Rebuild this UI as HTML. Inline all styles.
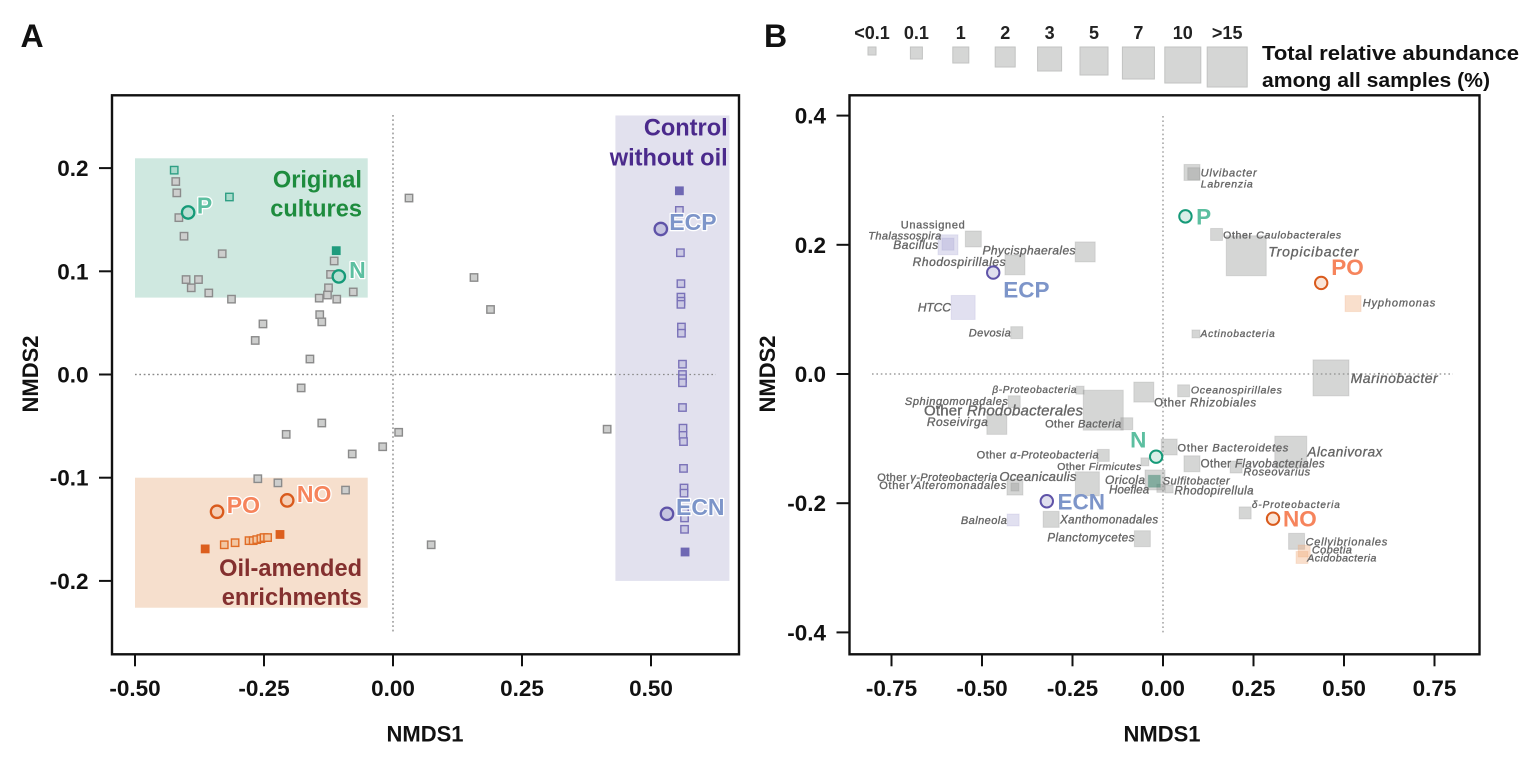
<!DOCTYPE html>
<html lang="en">
<head>
<meta charset="utf-8">
<title>NMDS ordination of samples and taxa</title>
<style>
  html, body { margin: 0; padding: 0; background: #fff; }
  #figure { display: block; width: 1535px; height: 762px; font-family: "Liberation Sans", Arial, sans-serif; }
</style>
</head>
<body>
<svg id="figure" xmlns="http://www.w3.org/2000/svg" width="1535" height="762" viewBox="0 0 1535 762">
  <text x="20.5" y="47" font-size="32" font-weight="bold" fill="#111">A</text>
  <text x="764" y="47" font-size="32" font-weight="bold" fill="#111">B</text>
  <text x="1262" y="60" font-size="20" font-weight="bold" fill="#111" textLength="257" lengthAdjust="spacingAndGlyphs">Total relative abundance</text>
  <text x="1262" y="87" font-size="20" font-weight="bold" fill="#111" textLength="228" lengthAdjust="spacingAndGlyphs">among all samples (%)</text>
  <g id="panel-a"></g>
  <g id="panel-b"></g>
  <g id="size-legend"></g>
</svg>
<script>
// ---------- Panel A data (NMDS1, NMDS2) ----------
const xTicksA = [-0.5, -0.25, 0, 0.25, 0.5];
const xTickLabelsA = ["-0.50", "-0.25", "0.00", "0.25", "0.50"];
const yTicksA = [0.2, 0.1, 0, -0.1, -0.2];
const yTickLabelsA = ["0.2", "0.1", "0.0", "-0.1", "-0.2"];
const grayPoints = [
  [-0.421,0.187],[-0.419,0.176],[-0.415,0.152],[-0.405,0.134],[-0.331,0.117],[-0.401,0.092],
  [-0.377,0.092],[-0.391,0.084],[-0.357,0.079],[-0.313,0.073],[-0.114,0.110],[-0.121,0.097],
  [-0.125,0.084],[-0.127,0.077],[-0.143,0.074],[-0.109,0.073],[-0.077,0.080],[-0.142,0.058],
  [-0.138,0.051],[-0.252,0.049],[-0.267,0.033],[-0.161,0.015],[-0.178,-0.013],[0.031,0.171],
  [0.157,0.094],[0.189,0.063],[-0.138,-0.047],[-0.207,-0.058],[0.011,-0.056],[-0.020,-0.070],
  [-0.079,-0.077],[-0.262,-0.101],[-0.223,-0.105],[-0.092,-0.112],[0.074,-0.165],[0.415,-0.053]
];
const tealOpenPoints = [[-0.424,0.198],[-0.317,0.172]];
const tealFilledPoints = [[-0.110,0.120]];
const orangeOpenPoints = [[-0.327,-0.165],[-0.306,-0.163],[-0.279,-0.161],[-0.271,-0.161],[-0.264,-0.160],[-0.256,-0.159],[-0.250,-0.158],[-0.243,-0.158]];
const orangeFilledPoints = [[-0.364,-0.169],[-0.219,-0.155]];
const purpleOpenPoints = [
  [0.555,0.159],[0.557,0.118],[0.558,0.088],[0.558,0.075],[0.558,0.071],[0.558,0.068],
  [0.559,0.046],[0.559,0.040],[0.561,0.010],[0.561,0.000],[0.561,-0.004],[0.561,-0.008],
  [0.561,-0.032],[0.562,-0.052],[0.562,-0.059],[0.563,-0.065],[0.563,-0.091],[0.564,-0.110],
  [0.564,-0.115],[0.565,-0.131],[0.565,-0.139],[0.565,-0.150]
];
const purpleFilledPoints = [[0.555,0.178],[0.566,-0.172]];
const centroidNames = ["P", "N", "PO", "NO", "ECP", "ECN"];
const centroidXA = [-0.397, -0.105, -0.341, -0.205, 0.519, 0.531];
const centroidYA = [0.157, 0.095, -0.133, -0.122, 0.141, -0.135];

// ---------- Panel B data ----------
const xTicksB = [-0.75, -0.5, -0.25, 0, 0.25, 0.5, 0.75];
const xTickLabelsB = ["-0.75", "-0.50", "-0.25", "0.00", "0.25", "0.50", "0.75"];
const yTicksB = [0.4, 0.2, 0, -0.2, -0.4];
const yTickLabelsB = ["0.4", "0.2", "0.0", "-0.2", "-0.4"];
const centroidXB = [0.062, -0.019, 0.437, 0.304, -0.469, -0.321];
const centroidYB = [0.244, -0.128, 0.141, -0.224, 0.157, -0.197];
const abundanceLabels = ["<0.1", "0.1", "1", "2", "3", "5", "7", "10", ">15"];
const taxaNames = [
  "Unassigned","Thalassospira","Bacillus","Phycisphaerales","Rhodospirillales","HTCC","Devosia",
  "Ulvibacter","Labrenzia","Other Caulobacterales","Tropicibacter","Hyphomonas","Actinobacteria",
  "Marinobacter","Oceanospirillales","β-Proteobacteria","Sphingomonadales","Other Rhodobacterales",
  "Roseivirga","Other Bacteria","Other Rhizobiales","Other α-Proteobacteria","Other Firmicutes",
  "Other γ-Proteobacteria","Other Alteromonadales","Oceanicaulis","Balneola","Xanthomonadales",
  "Planctomycetes","Other Bacteroidetes","Other Flavobacteriales","Roseovarius","Alcanivorax",
  "Oricola","Hoeflea","Sulfitobacter","Rhodopirellula","δ-Proteobacteria","Cellvibrionales","Cobetia","Acidobacteria"
];
const taxaX = [
  -0.524,-0.594,-0.594,-0.215,-0.409,-0.552,-0.404,
  0.080,0.085,0.148,0.230,0.525,0.091,
  0.464,0.057,-0.229,-0.411,-0.165,
  -0.459,-0.100,-0.053,-0.165,-0.050,
  -0.409,-0.409,-0.209,-0.414,-0.309,
  -0.057,0.017,0.080,0.202,0.353,
  -0.022,-0.006,-0.024,0.017,0.227,0.369,0.390,0.384
];
const taxaY = [
  0.209,0.200,0.201,0.189,0.169,0.103,0.064,
  0.312,0.310,0.216,0.183,0.109,0.062,
  -0.006,-0.026,-0.025,-0.043,-0.056,
  -0.078,-0.077,-0.028,-0.126,-0.136,
  -0.175,-0.175,-0.170,-0.226,-0.225,
  -0.255,-0.113,-0.139,-0.144,-0.121,
  -0.164,-0.177,-0.166,-0.178,-0.215,-0.259,-0.274,-0.284
];
// index into abundanceLabels
const taxaAbundance = [
  2,3,1,3,3,4,1,
  2,1,1,8,2,0,
  7,1,0,1,8,
  3,1,3,1,0,
  0,2,4,1,2,
  2,2,2,1,6,
  3,0,1,0,1,2,1,1
];
const taxaGroup = [
  "g","p","p","g","g","p","g",
  "g","g","g","g","o","g",
  "g","g","g","g","g",
  "g","g","g","g","g",
  "g","g","g","p","g",
  "g","g","g","g","g",
  "g","g","t","g","g","g","o","o"
];

// ---------- Scales ----------
function xA(v) { return 393 + v * 516; }
function yA(v) { return 374.5 - v * 1032; }
function xB(v) { return 1163 + v * 362; }
function yB(v) { return 374 - v * 646; }
function sideOfAbundance(i) { return 8 + 4 * i; }

const NS = "http://www.w3.org/2000/svg";
function mk(tag, parent, attrs) {
  const el = document.createElementNS(NS, tag);
  for (const k in attrs) el.setAttribute(k, attrs[k]);
  parent.appendChild(el);
  return el;
}

const tickFont = { "font-size": 22.5, "font-weight": "bold", fill: "#111" };

function drawAxes(g, box, xs, xLabels, xf, ys, yLabels, yf, xTitleX, yTitleX, zeroV, zeroH) {
  const frame = mk("rect", g, { x: box.l, y: box.t, width: box.r - box.l, height: box.b - box.t, fill: "#fff", stroke: "#111", "stroke-width": 2.4 });
  
  
  const vz = mk("line", g, { x1: xf(0), x2: xf(0), y1: zeroV[0], y2: zeroV[1], stroke: "#8a8a8a", "stroke-width": 1.2, "stroke-dasharray": "1.6 2.8" });
  
  
  const hz = mk("line", g, { x1: zeroH[0], x2: zeroH[1], y1: yf(0), y2: yf(0), stroke: "#8a8a8a", "stroke-width": 1.2, "stroke-dasharray": "1.6 2.8" });
  
  
  xs.forEach(function (v, i) {
    const tick = mk("line", g, { x1: xf(v), x2: xf(v), y1: box.b, y2: box.b + 12, stroke: "#111", "stroke-width": 2 });
    
    
    const t = mk("text", g, Object.assign({ x: xf(v), y: 696, "text-anchor": "middle" }, tickFont));
    t.textContent = xLabels[i];
    
    
  });
  ys.forEach(function (v, i) {
    const tick = mk("line", g, { x1: box.l - 13, x2: box.l, y1: yf(v), y2: yf(v), stroke: "#111", "stroke-width": 2 });
    
    
    const t = mk("text", g, Object.assign({ x: box.l - 23.5, y: yf(v) + 8, "text-anchor": "end" }, tickFont));
    t.textContent = yLabels[i];
    
    
  });
  const xt = mk("text", g, { x: xTitleX, y: 741.5, "text-anchor": "middle", "font-size": 22, "font-weight": "bold", fill: "#111" });
  xt.textContent = "NMDS1";
  
  
  const yt = mk("text", g, { transform: "translate(" + yTitleX + " 374) rotate(-90)", "text-anchor": "middle", "font-size": 22, "font-weight": "bold", fill: "#111" });
  yt.textContent = "NMDS2";
  
  
}

const centroidStyle = {
  P:   { stroke: "#159a78", fill: "#b9e0d4", label: "#5cbfa0" },
  N:   { stroke: "#159a78", fill: "#b9e0d4", label: "#5cbfa0" },
  PO:  { stroke: "#d95a1c", fill: "#f5cfb6", label: "#f6845c" },
  NO:  { stroke: "#d95a1c", fill: "#f5cfb6", label: "#f6845c" },
  ECP: { stroke: "#5f53a8", fill: "#c6c4e0", label: "#7d95c9" },
  ECN: { stroke: "#5f53a8", fill: "#c6c4e0", label: "#7d95c9" }
};

// ---------- Panel A ----------
(function () {
  const g = document.getElementById("panel-a");
  drawAxes(g, { l: 112, r: 739, t: 95.3, b: 654.3 }, xTicksA, xTickLabelsA, xA, yTicksA, yTickLabelsA, yA, 425, 38, [115, 633], [135, 716]);

  const regionTeal = mk("rect", g, { x: xA(-0.5), y: yA(0.2095), width: xA(-0.049) - xA(-0.5), height: yA(0.0745) - yA(0.2095), fill: "#cfe8e0" });
  
  
  const regionOrange = mk("rect", g, { x: xA(-0.5), y: yA(-0.1), width: xA(-0.049) - xA(-0.5), height: yA(-0.226) - yA(-0.1), fill: "#f6dfcd" });
  
  
  const regionPurple = mk("rect", g, { x: xA(0.431), y: yA(0.251), width: xA(0.652) - xA(0.431), height: yA(-0.2) - yA(0.251), fill: "#e2e1ee" });
  
  

  // redraw zero lines over regions
  const vz = mk("line", g, { x1: xA(0), x2: xA(0), y1: 115, y2: 633, stroke: "#8a8a8a", "stroke-width": 1.2, "stroke-dasharray": "1.6 2.8" });
  
  
  const hz = mk("line", g, { x1: 135, x2: 716, y1: yA(0), y2: yA(0), stroke: "#8a8a8a", "stroke-width": 1.2, "stroke-dasharray": "1.6 2.8" });
  
  

  function squares(points, fill, stroke, name) {
    points.forEach(function (p) {
      const s = mk("rect", g, { x: xA(p[0]) - 3.7, y: yA(p[1]) - 3.7, width: 7.4, height: 7.4, fill: fill, stroke: stroke, "stroke-width": 1.4 });
      
      
    });
  }
  squares(grayPoints, "#cdcecd", "#8b8b8b", "sample-point-gray");
  squares(tealOpenPoints, "#a9dacb", "#2f9f84", "sample-point-original-open");
  squares(tealFilledPoints, "#1f9b7d", "#1f9b7d", "sample-point-original-filled");
  squares(orangeOpenPoints, "#f2c6a2", "#e06c26", "sample-point-oil-open");
  squares(orangeFilledPoints, "#dc5f1e", "#dc5f1e", "sample-point-oil-filled");
  squares(purpleOpenPoints, "#cbc9e3", "#7a72b8", "sample-point-control-open");
  squares(purpleFilledPoints, "#6f68b3", "#6f68b3", "sample-point-control-filled");

  const labelOffsetA = { P: [8.7, 0.8], N: [10.3, 1.3], PO: [9.7, 1.3], NO: [9.7, 1.7], ECP: [8.5, 1], ECN: [9, 1.3] };
  centroidNames.forEach(function (n, i) {
    const st = centroidStyle[n];
    const cx = xA(centroidXA[i]), cy = yA(centroidYA[i]);
    const c = mk("circle", g, { cx: cx, cy: cy, r: 6.2, fill: st.fill, stroke: st.stroke, "stroke-width": 2.3 });
    
    
    const t = mk("text", g, { x: cx + labelOffsetA[n][0], y: cy + labelOffsetA[n][1], "font-size": 23, "font-weight": "bold", fill: st.label, stroke: "#fff", "stroke-width": 2.6, "paint-order": "stroke", "stroke-linejoin": "round" });
    t.textContent = n;
    
    
  });

  const groupLabels = [
    ["Original", 362, 187.7, "#1e8c3e", "original-cultures-label-1"],
    ["cultures", 362, 216.7, "#1e8c3e", "original-cultures-label-2"],
    ["Oil-amended", 362, 576, "#84302f", "oil-amended-label-1"],
    ["enrichments", 362, 605, "#84302f", "oil-amended-label-2"],
    ["Control", 727.7, 135.7, "#4b2a8c", "control-label-1"],
    ["without oil", 727.7, 165.7, "#4b2a8c", "control-label-2"]
  ];
  groupLabels.forEach(function (d) {
    const t = mk("text", g, { x: d[1], y: d[2], "text-anchor": "end", "font-size": 23.6, "font-weight": "bold", fill: d[3] });
    t.textContent = d[0];
    
    
  });
})();

// ---------- Panel B ----------
(function () {
  const g = document.getElementById("panel-b");
  drawAxes(g, { l: 849.5, r: 1479.5, t: 95.3, b: 654.3 }, xTicksB, xTickLabelsB, xB, yTicksB, yTickLabelsB, yB, 1162, 775, [116, 633], [872, 1453]);

  const fills = { g: "rgba(150,153,150,0.40)", p: "rgba(165,160,210,0.33)", o: "rgba(240,170,120,0.38)", t: "rgba(50,130,105,0.5)" };
  const strokes = { g: "rgba(130,130,130,0.22)", p: "rgba(150,145,200,0.18)", o: "rgba(235,160,110,0.2)", t: "rgba(50,130,105,0.2)" };
  taxaNames.forEach(function (n, i) {
    const side = sideOfAbundance(taxaAbundance[i]);
    const s = mk("rect", g, { x: xB(taxaX[i]) - side / 2, y: yB(taxaY[i]) - side / 2, width: side, height: side, fill: fills[taxaGroup[i]], stroke: strokes[taxaGroup[i]], "stroke-width": 1 });
    
    
  });

  // label placement: [dx, dy, width, font size] relative to each taxon square centre
  const labelLayout = {
    "Unassigned": [-72.6, -10.3, 64, 11], "Thalassospira": [-79.7, -5.4, 73, 11], "Bacillus": [-54.7, 5, 45, 12],
    "Phycisphaerales": [-102.7, 2.6, 93, 12], "Rhodospirillales": [-102.3, 1.3, 93, 12], "HTCC": [-45.3, 4, 33, 12],
    "Devosia": [-48, 4, 42, 11], "Ulvibacter": [8.7, 4, 56, 11], "Labrenzia": [7, 13.6, 52, 10.5],
    "Other Caulobacterales": [6.6, 4, 118, 10.5], "Tropicibacter": [22, 0.7, 90, 14], "Hyphomonas": [9.7, 3, 72.5, 11],
    "Actinobacteria": [4.7, 3, 74, 10], "Marinobacter": [19.7, 5, 87, 14], "Oceanospirillales": [7.3, 2.6, 91, 10.5],
    "β-Proteobacteria": [-87.7, 3, 84, 10], "Sphingomonadales": [-109.3, 3, 103, 11], "Other Rhodobacterales": [-179.3, 5.3, 159, 15],
    "Roseivirga": [-70, 1.7, 61, 12], "Other Bacteria": [-81.7, 3.7, 76, 11], "Other Rhizobiales": [10.3, 14.4, 102, 11.5],
    "Other α-Proteobacteria": [-126.6, 3.3, 122, 11], "Other Firmicutes": [-87.7, 8.3, 84, 10.5], "Other γ-Proteobacteria": [-137.7, -6.3, 120, 11],
    "Other Alteromonadales": [-135.7, 1.7, 127, 11], "Oceanicaulis": [-88, -3, 77, 13], "Balneola": [-52.3, 4, 46, 11],
    "Xanthomonadales": [9, 4, 98, 11.5], "Planctomycetes": [-95, 3, 87, 11.5], "Other Bacteroidetes": [8.4, 4.4, 110.7, 11],
    "Other Flavobacteriales": [8.7, 3.6, 124, 11.5], "Roseovarius": [7.3, 8.7, 66.7, 11], "Alcanivorax": [16.6, 4.4, 75, 13.5],
    "Oricola": [-50, 4, 40, 12], "Hoeflea": [-51.7, 5.4, 40, 11.5], "Sulfitobacter": [8.4, 3.3, 67, 11],
    "Rhodopirellula": [5.4, 5.7, 79, 11.5], "δ-Proteobacteria": [6.7, -5, 88, 10], "Cellvibrionales": [9, 4, 81.7, 11],
    "Cobetia": [7.7, 2.6, 40, 11], "Acidobacteria": [5.3, 4, 69, 10.5]
  };
  taxaNames.forEach(function (n, i) {
    const L = labelLayout[n];
    const t = mk("text", g, { x: xB(taxaX[i]) + L[0], y: yB(taxaY[i]) + L[1], "font-size": L[3], fill: "#666", stroke: "#666", "stroke-width": 0.35, textLength: L[2], lengthAdjust: "spacing" });
    if (n === "Unassigned") {
      t.textContent = n;
    } else if (n.indexOf("Other ") === 0) {
      t.appendChild(document.createTextNode("Other "));
      const it = mk("tspan", t, { "font-style": "italic" });
      it.textContent = n.slice(6);
    } else {
      t.setAttribute("font-style", "italic");
      t.textContent = n;
    }
    
    
  });

  const labelOffsetB = { P: [10.7, 8], N: [-26, -9], PO: [10, -7.7], NO: [10, 7.7], ECP: [10, 24.7], ECN: [10.7, 8] };
  centroidNames.forEach(function (n, i) {
    const st = centroidStyle[n];
    const cx = xB(centroidXB[i]), cy = yB(centroidYB[i]);
    const c = mk("circle", g, { cx: cx, cy: cy, r: 6.2, fill: st.fill, "fill-opacity": 0.55, stroke: st.stroke, "stroke-width": 2 });
    
    
    const t = mk("text", g, { x: cx + labelOffsetB[n][0], y: cy + labelOffsetB[n][1], "font-size": 22.5, "font-weight": "bold", fill: st.label });
    t.textContent = n;
    
    
  });
})();

// ---------- Size legend ----------
(function () {
  const g = document.getElementById("size-legend");
  abundanceLabels.forEach(function (lab, i) {
    const cx = 872 + i * 44.4;
    const side = sideOfAbundance(i);
    const s = mk("rect", g, { x: cx - side / 2, y: 47, width: side, height: side, fill: "#d5d6d5", stroke: "#c2c3c2", "stroke-width": 1 });
    
    
    const t = mk("text", g, { x: cx, y: 39, "text-anchor": "middle", "font-size": 18, "font-weight": "bold", fill: "#222" });
    t.textContent = lab;
    
    
  });
})();
</script>
</body>
</html>
